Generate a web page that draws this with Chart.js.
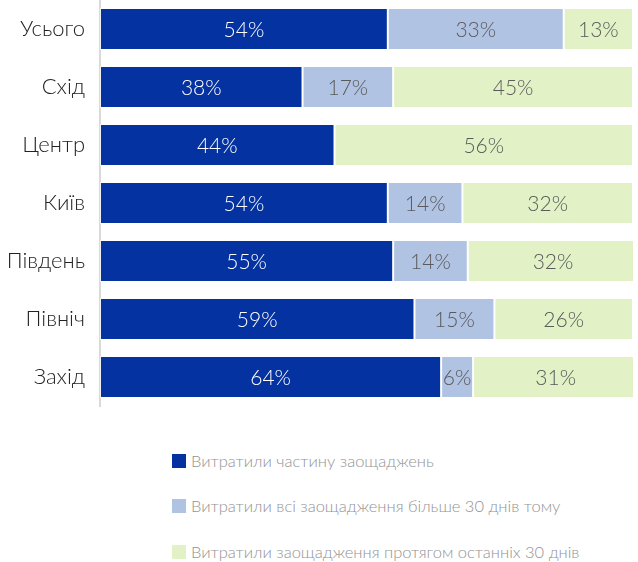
<!DOCTYPE html>
<html>
<head>
<meta charset="utf-8">
<script src="https://cdn.jsdelivr.net/npm/chart.js@4.4.0/dist/chart.umd.min.js"></script>
<style>
	body { margin: 0; background: #fff; font-family: Lato, 'Open Sans', sans-serif; }
	#wrap { position: relative; width: 638px; height: 412px; }
	#legend { padding-left: 172px; margin-top: 26px; }
	.item { display: flex; align-items: center; height: 45.5px; color: #939393; font-size: 16.5px; font-weight: 300; }
	.box { width: 14px; height: 14px; margin-right: 5px; }
</style>
</head>
<body>
<div id="wrap"><canvas id="savingsChart"></canvas></div>
<div id="legend"></div>
<script>
// Chart data
const regions = ['Усього', 'Схід', 'Центр', 'Київ', 'Південь', 'Північ', 'Захід'];
const spentPart = [54, 38, 44, 54, 55, 59, 64];
const spentAllBefore = [33, 17, 0, 14, 14, 15, 6];
const spentAllRecent = [13, 45, 56, 32, 32, 26, 31];
const seriesNames = [
	'Витратили частину заощаджень',
	'Витратили всі заощадження більше 30 днів тому',
	'Витратили заощадження протягом останніх 30 днів'
];
const colors = ['#0432a0', '#b1c3e3', '#e2f2c6'];
const labelColors = ['#ffffff', '#5a5a5a', '#5a5a5a'];

// draw value labels in the middle of each segment
const valueLabels = {
	id: 'valueLabels',
	afterDatasetsDraw(chart) {
		const ctx = chart.ctx;
		ctx.save();
		ctx.font = '300 21px Lato, "Open Sans", sans-serif';
		ctx.textAlign = 'center';
		ctx.textBaseline = 'middle';
		chart.data.datasets.forEach((ds, i) => {
			const meta = chart.getDatasetMeta(i);
			meta.data.forEach((bar, j) => {
				const v = ds.data[j];
				if (!v) return;
				const x = (bar.x + bar.base) / 2;
				ctx.fillStyle = labelColors[i];
				ctx.fillText(v + '%', x, bar.y + 1);
			});
		});
		ctx.restore();
	}
};

const ctx = document.getElementById('savingsChart');
ctx.chart = new Chart(ctx, {
	type: 'bar',
	data: {
		labels: regions,
		datasets: [spentPart, spentAllBefore, spentAllRecent].map((d, i) => ({
			label: seriesNames[i],
			data: d,
			backgroundColor: colors[i],
			borderColor: 'rgba(255,255,255,0.6)',
			borderWidth: 1,
			borderSkipped: false,
			categoryPercentage: 0.8,
			barPercentage: 0.9
		}))
	},
	plugins: [valueLabels],
	options: {
		indexAxis: 'y',
		responsive: true,
		maintainAspectRatio: false,
		animation: false,
		layout: { padding: { top: 0, right: 5, bottom: 6, left: 0 } },
		plugins: {
			legend: { display: false },
			tooltip: { enabled: false }
		},
		scales: {
			x: {
				stacked: true,
				min: 0,
				max: 100,
				display: false
			},
			y: {
				stacked: true,
				grid: { display: false },
				border: { color: '#d9d9d9', width: 2 },
				afterFit: function(scale) {
					scale.width = 100;
					scale.paddingTop = 0;
					scale.paddingBottom = 0;
				},
				ticks: {
					color: '#222',
					padding: 7,
					font: { family: 'Lato, "Open Sans", sans-serif', size: 22, weight: 300 }
				}
			}
		}
	}
});

// legend built from the same series
const legend = document.getElementById('legend');
seriesNames.forEach((name, i) => {
	const row = document.createElement('div');
	row.className = 'item';
	row.innerHTML = '<span class="box" style="background:' + colors[i] + '"></span>' + name;
	legend.appendChild(row);
});
</script>
</body>
</html>
